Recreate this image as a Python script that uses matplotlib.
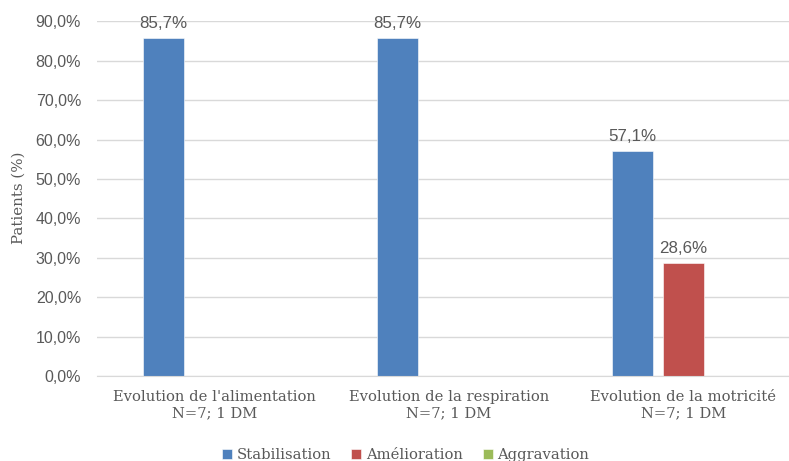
import matplotlib
matplotlib.use("Agg")
import matplotlib.pyplot as plt
import numpy as np

categories = ["Evolution de l'alimentation\nN=7; 1 DM",
              "Evolution de la respiration\nN=7; 1 DM",
              "Evolution de la motricité\nN=7; 1 DM"]
series = ["Stabilisation", "Amélioration", "Aggravation"]
stabilisation = [85.7, 85.7, 57.1]
amelioration = [0, 0, 28.6]
aggravation = [0, 0, 0]
colors = ["#4F81BD", "#C0504D", "#9BBB59"]
yticks = [0, 10, 20, 30, 40, 50, 60, 70, 80, 90]

gray = "#595959"
serif = "DejaVu Serif"
sans = "Liberation Sans"

fig = plt.figure(figsize=(7.89, 4.61), dpi=100)
ax = fig.add_axes([97/789, 85/461, 703.5/789, 354.7/461])

x = np.arange(len(categories))
width = 0.173
step = 0.2175
values = [stabilisation, amelioration, aggravation]
for i, (name, vals, col) in enumerate(zip(series, values, colors)):
    bars = ax.bar(x + (i - 1) * step, vals, width, color=col, label=name,
                  edgecolor="#ffffff", linewidth=0.4, zorder=3)
    for b, v in zip(bars, vals):
        if v > 0:
            ax.annotate(f"{v:.1f}%".replace(".", ","),
                        (b.get_x() + b.get_width() / 2, v),
                        xytext=(0, 5), textcoords="offset points",
                        ha="center", va="bottom", fontsize=12.2,
                        family=sans, color=gray)

ax.set_xlim(-0.5, 2.5)
ax.set_ylim(0, 90)
ax.set_yticks(yticks)
ax.set_yticklabels([f"{t:.1f}%".replace(".", ",") for t in yticks],
                   fontsize=11.5, family=sans, color=gray)
ax.set_xticks(x)
ax.set_xticklabels(categories, fontsize=10.6, family=serif, color=gray,
                   linespacing=1.25)
ax.tick_params(axis="y", length=0, pad=11.5)
ax.tick_params(axis="x", length=0, pad=10)

ax.grid(axis="y", color="#D9D9D9", linewidth=1, zorder=0)
for s in ["top", "right", "left"]:
    ax.spines[s].set_visible(False)
ax.spines["bottom"].set_color("#D9D9D9")
ax.spines["bottom"].set_zorder(4)

fig.text(19/789, (461 - 198)/461, "Patients (%)", rotation=90,
         ha="center", va="center", fontsize=10.8, family=serif, color=gray)

leg = fig.legend(loc="center", bbox_to_anchor=(0.514, 0.013),
                 bbox_transform=fig.transFigure, ncol=3, frameon=False,
                 prop={"family": serif, "size": 10.6}, handlelength=0.7,
                 handleheight=0.7, handletextpad=0.3, columnspacing=1.35)
for t in leg.get_texts():
    t.set_color(gray)

fig.savefig("out.png", dpi=100)
